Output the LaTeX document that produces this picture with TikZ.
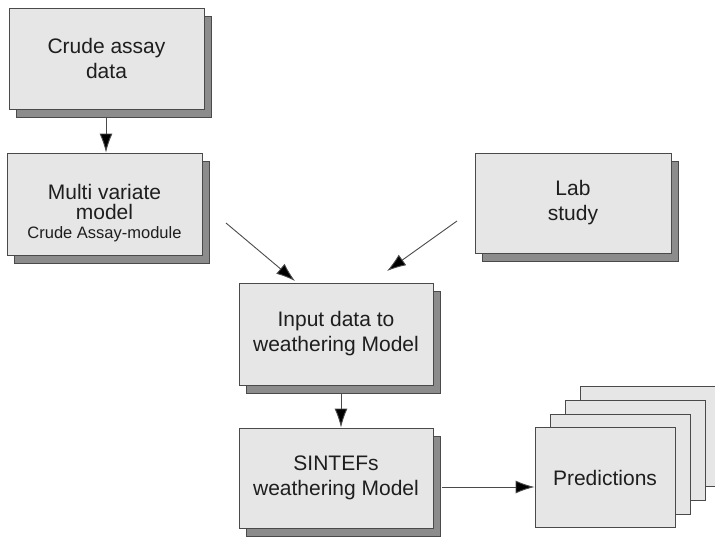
\documentclass[tikz,border=0pt]{standalone}
\usepackage{fontspec}
\setmainfont{Liberation Sans}
\usetikzlibrary{arrows.meta,shadows}
\definecolor{boxfill}{HTML}{E6E6E6}
\definecolor{boxline}{HTML}{4A4A4A}
\definecolor{shadowgray}{HTML}{8C8C8C}
\definecolor{txt}{HTML}{1E1E1E}
\tikzset{
  flowbox/.style={draw=boxline, line width=0.9pt, fill=boxfill, inner sep=0pt,
    align=center, text=txt, font=\fontsize{21}{25}\selectfont,
    drop shadow={shadow xshift=7pt, shadow yshift=-8pt, fill=shadowgray, opacity=1, draw=boxline, line width=0.6pt}},
  stackbox/.style={draw=boxline, line width=0.9pt, fill=boxfill, inner sep=0pt,
    minimum width=140pt, minimum height=100pt, align=center, text=txt,
    font=\fontsize{21}{25}\selectfont},
  boxtext/.style={inner sep=0pt, align=center, text=txt, font=\fontsize{21}{25}\selectfont},
  flowarrow/.style={draw=boxline, line width=0.9pt,
    -{Latex[length=19pt,width=13pt,fill=black]}},
}
\begin{document}
\begin{tikzpicture}[x=1pt,y=-1pt]
\useasboundingbox (0,0) rectangle (715,536);
% boxes
\node[flowbox, minimum width=195pt, minimum height=101pt] (crude) at (106.5,58.5) {Crude assay\\data};
\node[flowbox, minimum width=195pt, minimum height=102pt] (multi) at (104.5,204) {};
\node[boxtext] (multitext) at ([yshift=-9pt]multi.center) {Multi variate\\[-5pt]model\\[-6pt]{\fontsize{16.5}{19}\selectfont Crude Assay-module}};
\node[flowbox, minimum width=196pt, minimum height=100pt] (lab) at (573,203) {Lab\\study};
\node[flowbox, minimum width=194pt, minimum height=102pt] (input) at (336,334) {Input data to\\weathering Model};
\node[flowbox, minimum width=194pt, minimum height=100pt] (sintef) at (336,478) {SINTEFs\\weathering Model};
% prediction stack
\node[stackbox] (pred4) at (650,436) {};
\node[stackbox] (pred3) at (635,450) {};
\node[stackbox] (pred2) at (620,464) {};
\node[stackbox] (pred1) at (605,477.5) {Predictions};
% free arrow ends
\coordinate (m1) at (226,223);
\coordinate (m2) at (295,281);
\coordinate (l1) at (457,221);
\coordinate (l2) at (387,271);
\coordinate (c1) at ([xshift=-0.5pt,yshift=-8pt]crude.south);
\coordinate (i1) at ([xshift=5pt,yshift=-8pt]input.south);
\coordinate (s1) at ([xshift=9pt,yshift=-9pt]sintef.east);
% connectors
\draw[flowarrow] (c1) -- (c1 |- multi.north);
\draw[flowarrow] (m1) -- (m2);
\draw[flowarrow] (l1) -- (l2);
\draw[flowarrow] (i1) -- (i1 |- sintef.north);
\draw[flowarrow] (s1) -- (s1 -| pred1.west);
\end{tikzpicture}
\end{document}
